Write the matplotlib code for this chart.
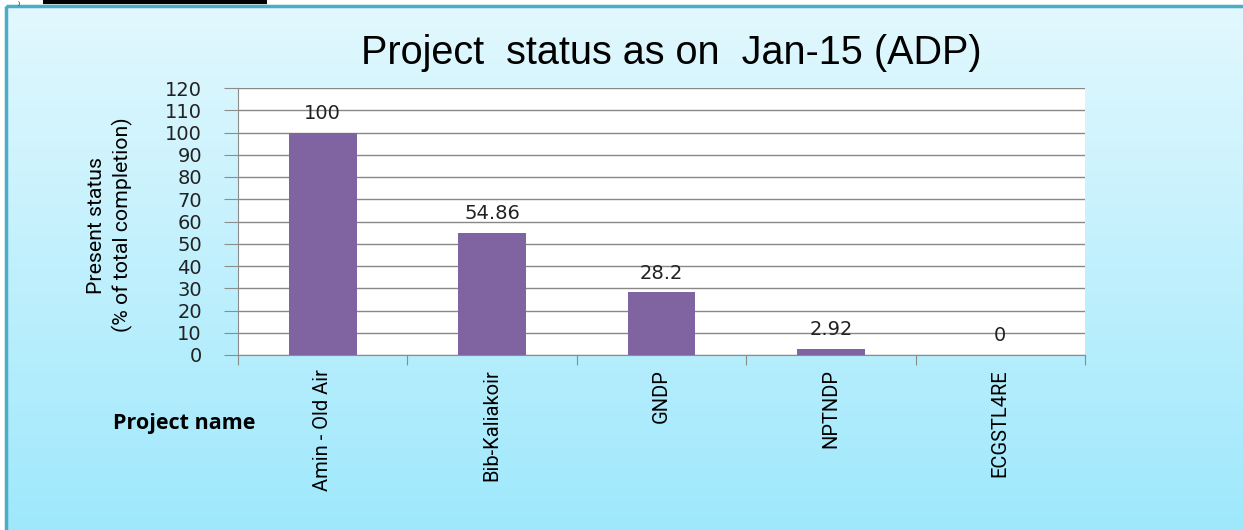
import numpy as np
import matplotlib.pyplot as plt
from matplotlib.patches import Rectangle

projects = ['Amin - Old Air', 'Bib-Kaliakoir', 'GNDP', 'NPTNDP', 'ECGSTL4RE']
status = [100, 54.86, 28.2, 2.92, 0]
labels = ['100', '54.86', '28.2', '2.92', '0']
yticks = list(range(0, 130, 10))

W, H = 1243, 530
fig = plt.figure(figsize=(W / 100, H / 100), dpi=100)
fig.patch.set_facecolor('white')

# light blue gradient panel behind the chart
bg = fig.add_axes([0, 0, 1, 1], zorder=0)
bg.set_xlim(0, W)
bg.set_ylim(H, 0)
bg.axis('off')
grad = np.linspace(0, 1, 256).reshape(-1, 1)
top = np.array([0xE2, 0xF8, 0xFE]) / 255
bot = np.array([0x9E, 0xE8, 0xFC]) / 255
img = top + (bot - top) * grad[:, :, None]
bg.imshow(img, extent=[6, W + 5, H + 5, 6], aspect='auto', zorder=0)
bg.add_patch(Rectangle((6, 6), W, H, fill=False, edgecolor='#4BACC6', lw=2.5, zorder=2))
bg.plot([43, 267], [1.5, 1.5], color='black', lw=3, solid_capstyle='butt', zorder=2)
bg.text(18, 0.5, ')', fontsize=4, va='top', ha='left', color='black')

ax = fig.add_axes([238 / W, 1 - 355 / H, (1085 - 238) / W, (355 - 88) / H], zorder=1)
ax.set_facecolor('white')
x = np.arange(len(projects))
bars = ax.bar(x, status, width=0.4, color='#8064A2', zorder=3)
ax.set_xlim(-0.5, len(projects) - 0.5)
ax.set_ylim(0, 120)
ax.set_yticks(yticks)
ax.set_yticklabels([str(v) for v in yticks], fontsize=14, family='DejaVu Sans', color='#222222')
ax.yaxis.grid(True, color='#888888', lw=1, zorder=1)
ax.set_axisbelow(True)
for s in ['top', 'right']:
    ax.spines[s].set_visible(False)
ax.spines['left'].set_color('#8c8c8c')
ax.spines['bottom'].set_color('#8c8c8c')
ax.tick_params(axis='y', length=10, color='#8c8c8c', pad=16)

# category separators as ticks, names as minor labels
ax.set_xticks(np.arange(-0.5, len(projects), 1))
ax.set_xticklabels([])
ax.tick_params(axis='x', which='major', length=7, direction='out', color='#8c8c8c')
ax.set_xticks(x, minor=True)
ax.set_xticklabels(projects, minor=True, rotation=90, fontsize=14.5,
                   family='Roboto', va='top')
ax.tick_params(axis='x', which='minor', length=0, pad=10)

for xi, v, lab in zip(x, status, labels):
    ax.annotate(lab, (xi, v), xytext=(0, 7), textcoords='offset points',
                ha='center', va='bottom', fontsize=14, color='#222222', zorder=4)

fig.text(671 / W, 1 - 53 / H, 'Project  status as on  Jan-15 (ADP)', ha='center', va='center',
         fontsize=28.5, family='Liberation Sans')
fig.text(110 / W, 1 - 225 / H, 'Present status\n(% of total completion)', ha='center', va='center',
         rotation=90, fontsize=15.3, family='Roboto', linespacing=1.4)
fig.text(113 / W, 1 - 423 / H, 'Project name', ha='left', va='center', fontsize=15.5,
         fontweight='bold', family='Open Sans')

fig.savefig('out.png', dpi=100)
